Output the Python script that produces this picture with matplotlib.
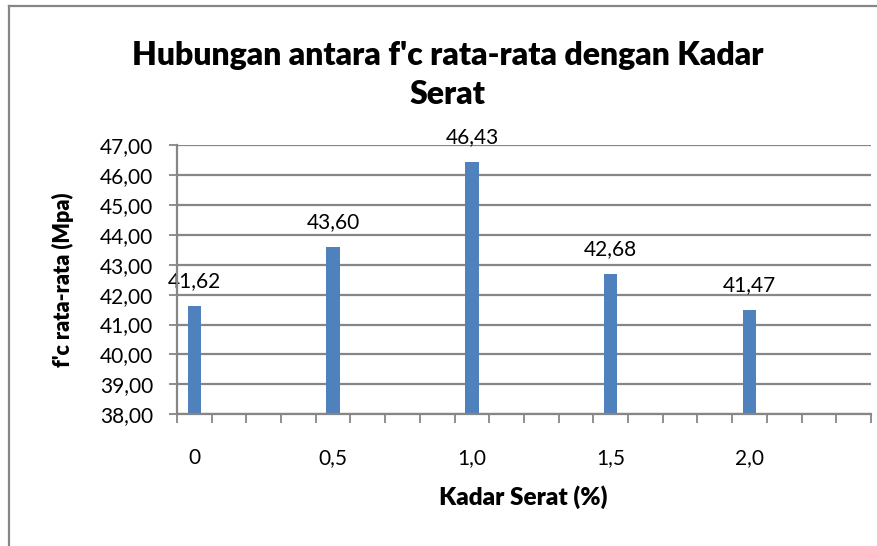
import matplotlib
matplotlib.use("Agg")
import matplotlib.pyplot as plt
from matplotlib.lines import Line2D
import numpy as np

# ---- data ----
kadar_labels = ["0", "0,5", "1,0", "1,5", "2,0"]
fc_values = [41.62, 43.60, 46.43, 42.68, 41.47]
n_slots = 20                      # category slots on the x axis (Excel layout)
bar_slots = [0, 4, 8, 12, 16]     # slots that hold the bars
y_ticks = [38, 39, 40, 41, 42, 43, 44, 45, 46, 47]

FONT = ["Lato", "DejaVu Sans"]
plt.rcParams['font.family'] = FONT

W, H = 878, 546
fig = plt.figure(figsize=(W / 100, H / 100), dpi=100)

ax = fig.add_axes([177 / W, 1 - 414.3 / H, (871 - 177) / W, (414.3 - 145) / H])

bar_color = "#4F81BD"
ax.bar(bar_slots, [v - 38 for v in fc_values], bottom=38, width=0.385,
       color=bar_color, zorder=3)

for x, v in zip(bar_slots, fc_values):
    ax.annotate(f"{v:.2f}".replace(".", ","), xy=(x, v), xytext=(0, 18),
                textcoords="offset points", ha="center", va="center",
                fontsize=15, color="black", zorder=4)

ax.set_xlim(-0.5, n_slots - 0.5)
ax.set_ylim(38, 47)

grid_c = "#868686"
ax.set_yticks(y_ticks)
ax.set_yticklabels([f"{t:.2f}".replace(".", ",") for t in y_ticks])
ax.yaxis.grid(True, color=grid_c, linewidth=1.6, zorder=0)
ax.tick_params(axis="y", length=6, width=1.3, color=grid_c, pad=11,
               labelsize=15, labelcolor="black")

ax.set_xticks(np.arange(-0.5, n_slots, 1.0))
ax.set_xticklabels([])
ax.tick_params(axis="x", which="major", length=6.5, width=1.3, color=grid_c)
ax.set_xticks(bar_slots, minor=True)
ax.set_xticklabels(kadar_labels, minor=True)
ax.tick_params(axis="x", which="minor", length=0, pad=24, labelsize=15,
               labelcolor="black")

for s in ["top", "right"]:
    ax.spines[s].set_visible(False)
for s in ["left", "bottom"]:
    ax.spines[s].set_color(grid_c)
    ax.spines[s].set_linewidth(1.6)
    ax.spines[s].set_zorder(5)

# axis titles
fig.text(62.5 / W, 1 - 280 / H, "f'c rata-rata (Mpa)", rotation=90,
         ha="center", va="center", fontsize=15.5, fontweight="heavy")
fig.text(523 / W, 1 - 497 / H, "Kadar Serat (%)", ha="center", va="center",
         fontsize=17.5, fontweight="heavy")

# chart title
fig.text(448 / W, 1 - 56 / H, "Hubungan antara f'c rata-rata dengan Kadar",
         ha="center", va="center", fontsize=23, fontweight="heavy")
fig.text(448 / W, 1 - 94 / H, "Serat", ha="center", va="center",
         fontsize=23, fontweight="heavy")

# chart area border (left and top visible)
fig.add_artist(Line2D([9.5 / W, 9.5 / W], [0, 1 - 5.5 / H], transform=fig.transFigure,
                      color=grid_c, linewidth=1.6))
fig.add_artist(Line2D([9.5 / W, 1], [1 - 5.5 / H, 1 - 5.5 / H], transform=fig.transFigure,
                      color=grid_c, linewidth=1.6))

fig.savefig("out.png", dpi=100)
